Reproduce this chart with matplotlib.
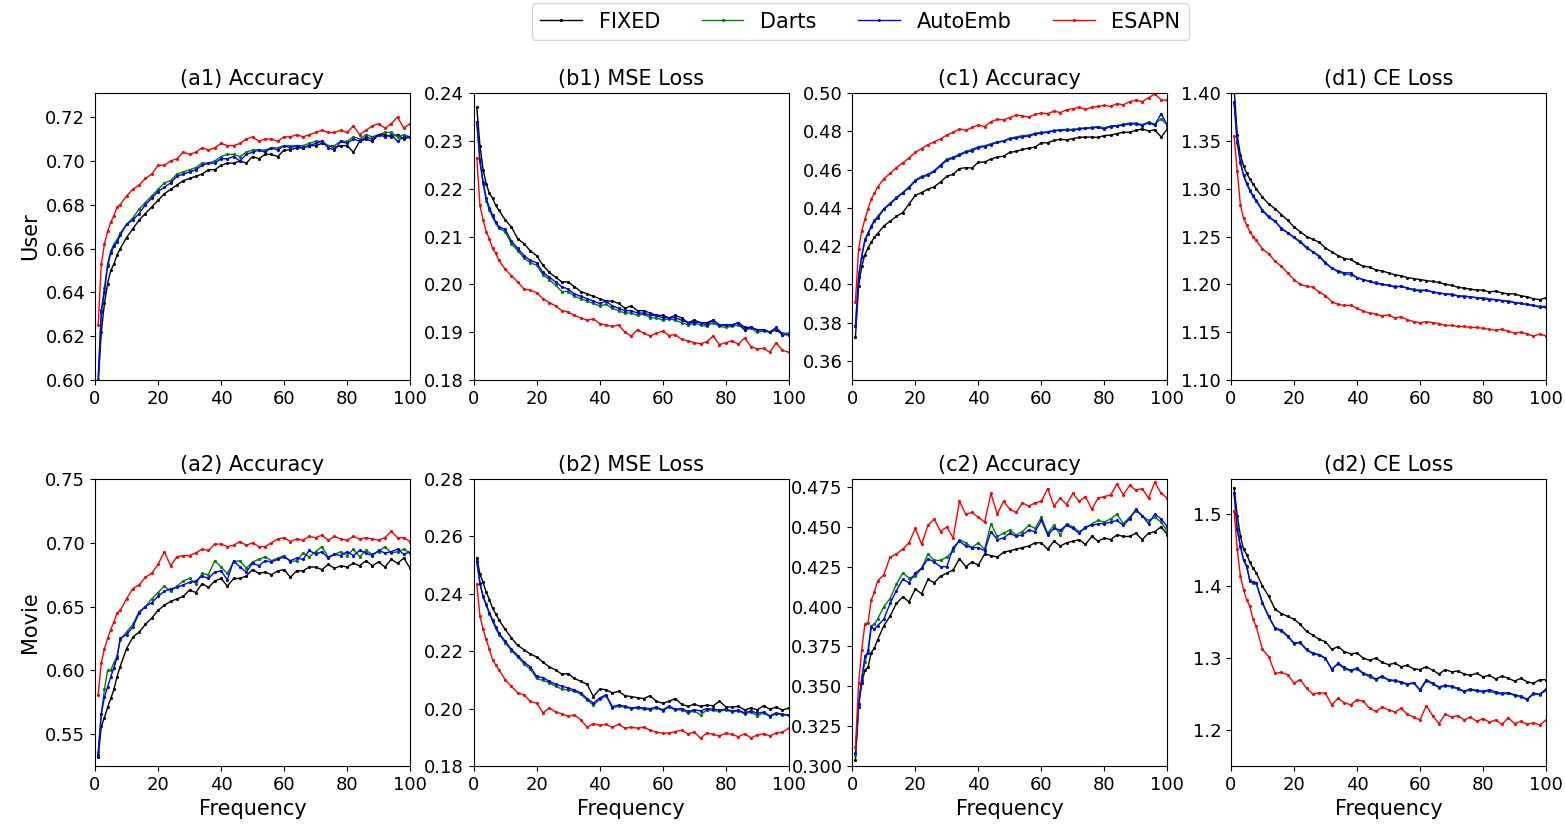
import matplotlib
matplotlib.use("Agg")
import matplotlib.pyplot as plt

# sampled frequencies
freq = [1, 2, 3, 4, 5, 6, 7, 8] + list(range(10, 101, 2))

methods = ["FIXED", "Darts", "AutoEmb", "ESAPN"]
colors = ["k", "g", "b", "r"]

# (a1) User accuracy
a1_fixed = [0.598, 0.622, 0.635, 0.644, 0.650, 0.653, 0.657, 0.660,
            0.665, 0.669, 0.673, 0.676, 0.679, 0.682, 0.685, 0.687, 0.689, 0.691,
            0.692, 0.693, 0.694, 0.696, 0.696, 0.698, 0.699, 0.699, 0.700, 0.699,
            0.702, 0.701, 0.703, 0.703, 0.702, 0.705, 0.705, 0.706, 0.706, 0.707,
            0.707, 0.708, 0.707, 0.706, 0.707, 0.707, 0.704, 0.709, 0.710, 0.709,
            0.712, 0.712, 0.711, 0.712, 0.710, 0.711]
a1_darts = [0.600, 0.632, 0.642, 0.653, 0.659, 0.662, 0.664, 0.667,
            0.671, 0.674, 0.678, 0.681, 0.684, 0.687, 0.690, 0.691, 0.694, 0.695,
            0.696, 0.697, 0.699, 0.699, 0.700, 0.702, 0.703, 0.703, 0.702, 0.704,
            0.705, 0.705, 0.705, 0.706, 0.706, 0.707, 0.707, 0.707, 0.707, 0.708,
            0.709, 0.709, 0.707, 0.707, 0.709, 0.709, 0.711, 0.710, 0.712, 0.711,
            0.712, 0.713, 0.713, 0.711, 0.712, 0.711]
a1_autoemb = [0.600, 0.631, 0.640, 0.652, 0.658, 0.661, 0.663, 0.666,
              0.671, 0.673, 0.676, 0.680, 0.683, 0.686, 0.688, 0.690, 0.693, 0.694,
              0.695, 0.696, 0.698, 0.699, 0.699, 0.701, 0.701, 0.702, 0.700, 0.703,
              0.704, 0.705, 0.704, 0.706, 0.705, 0.707, 0.706, 0.707, 0.706, 0.707,
              0.708, 0.709, 0.706, 0.705, 0.709, 0.708, 0.710, 0.709, 0.711, 0.710,
              0.712, 0.711, 0.712, 0.709, 0.711, 0.711]
a1_esapn = [0.625, 0.653, 0.662, 0.668, 0.672, 0.675, 0.679, 0.680,
            0.684, 0.687, 0.689, 0.692, 0.694, 0.698, 0.698, 0.700, 0.701, 0.704,
            0.703, 0.704, 0.706, 0.705, 0.706, 0.708, 0.707, 0.707, 0.708, 0.710,
            0.711, 0.709, 0.710, 0.710, 0.709, 0.711, 0.711, 0.712, 0.711, 0.712,
            0.713, 0.714, 0.713, 0.713, 0.714, 0.713, 0.716, 0.712, 0.714, 0.716,
            0.717, 0.715, 0.717, 0.720, 0.715, 0.717]

# (b1) User MSE loss
b1_fixed = [0.237, 0.229, 0.224, 0.221, 0.219, 0.218, 0.2165, 0.2155,
            0.2135, 0.212, 0.2095, 0.2085, 0.207, 0.206, 0.204, 0.2025, 0.2015, 0.2005,
            0.2005, 0.1995, 0.1985, 0.198, 0.1975, 0.197, 0.1965, 0.1965, 0.196, 0.195,
            0.1955, 0.1945, 0.1945, 0.194, 0.1935, 0.1935, 0.193, 0.1935, 0.193, 0.192,
            0.1925, 0.192, 0.192, 0.1925, 0.1915, 0.1915, 0.1915, 0.192, 0.191, 0.191,
            0.1905, 0.1905, 0.190, 0.1905, 0.1895, 0.1895]
b1_darts = [0.234, 0.2255, 0.221, 0.2175, 0.2155, 0.214, 0.2128, 0.2118,
            0.211, 0.2085, 0.207, 0.2055, 0.2045, 0.204, 0.202, 0.201, 0.1998, 0.1985,
            0.1985, 0.1975, 0.197, 0.1965, 0.196, 0.1955, 0.1958, 0.195, 0.1945, 0.194,
            0.194, 0.1935, 0.1938, 0.193, 0.193, 0.1925, 0.1928, 0.1925, 0.192, 0.1915,
            0.1918, 0.1915, 0.1912, 0.192, 0.1912, 0.191, 0.1912, 0.1915, 0.1905, 0.1908,
            0.190, 0.1902, 0.190, 0.1908, 0.1898, 0.1898]
b1_autoemb = [0.234, 0.226, 0.2215, 0.218, 0.216, 0.2145, 0.213, 0.212,
              0.2115, 0.209, 0.2075, 0.206, 0.205, 0.2045, 0.2025, 0.2015, 0.2005, 0.1995,
              0.199, 0.198, 0.1975, 0.197, 0.1965, 0.196, 0.1965, 0.1955, 0.195, 0.1945,
              0.1945, 0.194, 0.194, 0.1935, 0.1935, 0.193, 0.193, 0.193, 0.1925, 0.192,
              0.192, 0.192, 0.1915, 0.1925, 0.1915, 0.1915, 0.1915, 0.192, 0.1905, 0.191,
              0.1905, 0.1905, 0.190, 0.191, 0.1895, 0.1895]
b1_esapn = [0.2265, 0.2165, 0.2135, 0.211, 0.2095, 0.2075, 0.2065, 0.205,
            0.2032, 0.2018, 0.2005, 0.199, 0.1988, 0.1982, 0.197, 0.1962, 0.1955, 0.1945,
            0.1942, 0.1935, 0.193, 0.1925, 0.1928, 0.1918, 0.1915, 0.1912, 0.1915, 0.190,
            0.1892, 0.1905, 0.1898, 0.1892, 0.1898, 0.1902, 0.1893, 0.1895, 0.1885, 0.1882,
            0.1878, 0.1876, 0.188, 0.1892, 0.1874, 0.1878, 0.1882, 0.1875, 0.1888, 0.187,
            0.1865, 0.1866, 0.1858, 0.1878, 0.1862, 0.1858]

# (c1) User accuracy
c1_fixed = [0.3725, 0.399, 0.4095, 0.4155, 0.419, 0.422, 0.4245, 0.4265,
            0.4305, 0.433, 0.4355, 0.4375, 0.442, 0.4465, 0.448, 0.4498, 0.451, 0.4535,
            0.4565, 0.4575, 0.4605, 0.461, 0.4608, 0.4638, 0.464, 0.4655, 0.4665, 0.467,
            0.469, 0.4695, 0.4705, 0.4712, 0.4718, 0.474, 0.474, 0.4752, 0.4758, 0.4755,
            0.4762, 0.4768, 0.477, 0.477, 0.4768, 0.4778, 0.478, 0.4788, 0.4795, 0.4795,
            0.4805, 0.4812, 0.4802, 0.4808, 0.477, 0.4812]
c1_darts = [0.378, 0.4045, 0.415, 0.4235, 0.427, 0.4305, 0.4335, 0.4355,
            0.4395, 0.4425, 0.4455, 0.448, 0.451, 0.4545, 0.4565, 0.4575, 0.4595, 0.4625,
            0.4655, 0.4665, 0.468, 0.4695, 0.4705, 0.472, 0.4725, 0.4735, 0.4745, 0.475,
            0.4765, 0.477, 0.4778, 0.478, 0.479, 0.4795, 0.4798, 0.4805, 0.4808, 0.481,
            0.481, 0.4815, 0.4818, 0.482, 0.4825, 0.4818, 0.4828, 0.483, 0.4838, 0.4842,
            0.4843, 0.4835, 0.4848, 0.4838, 0.4865, 0.4832]
c1_autoemb = [0.378, 0.404, 0.4145, 0.423, 0.4265, 0.43, 0.433, 0.4345,
              0.4392, 0.442, 0.445, 0.4478, 0.4505, 0.454, 0.456, 0.457, 0.459, 0.462,
              0.4648, 0.466, 0.4675, 0.469, 0.4698, 0.4715, 0.472, 0.473, 0.4742, 0.4748,
              0.476, 0.4765, 0.4772, 0.4775, 0.4785, 0.479, 0.4795, 0.4802, 0.4805, 0.4808,
              0.4805, 0.4812, 0.4815, 0.4818, 0.482, 0.4812, 0.4825, 0.4828, 0.4832, 0.4838,
              0.4838, 0.483, 0.4845, 0.4832, 0.4892, 0.483]
c1_esapn = [0.391, 0.4185, 0.428, 0.434, 0.4395, 0.4445, 0.4475, 0.4508,
            0.4551, 0.458, 0.461, 0.4635, 0.466, 0.469, 0.471, 0.473, 0.4745, 0.476,
            0.478, 0.4795, 0.4812, 0.4805, 0.482, 0.4832, 0.4825, 0.485, 0.4862, 0.486,
            0.4872, 0.4885, 0.488, 0.4875, 0.4888, 0.4895, 0.4892, 0.4905, 0.4898, 0.4912,
            0.4918, 0.4925, 0.4915, 0.4925, 0.493, 0.4935, 0.493, 0.4945, 0.4938, 0.4955,
            0.4962, 0.4955, 0.4975, 0.4995, 0.4965, 0.4962]

# (d1) User CE loss
d1_fixed = [1.405, 1.356, 1.335, 1.324, 1.316, 1.310, 1.305, 1.300,
            1.291, 1.284, 1.279, 1.273, 1.267, 1.260, 1.255, 1.250, 1.247, 1.244,
            1.238, 1.234, 1.230, 1.227, 1.226, 1.222, 1.219, 1.218, 1.215, 1.214,
            1.212, 1.210, 1.209, 1.207, 1.206, 1.205, 1.204, 1.203, 1.202, 1.200,
            1.199, 1.197, 1.196, 1.195, 1.194, 1.194, 1.192, 1.193, 1.191, 1.190,
            1.190, 1.188, 1.187, 1.185, 1.184, 1.186]
d1_darts = [1.390, 1.348, 1.327, 1.314, 1.306, 1.299, 1.293, 1.288,
            1.278, 1.271, 1.266, 1.259, 1.254, 1.249, 1.245, 1.239, 1.234, 1.230,
            1.223, 1.217, 1.213, 1.211, 1.210, 1.207, 1.205, 1.203, 1.202, 1.200,
            1.199, 1.198, 1.198, 1.196, 1.195, 1.194, 1.194, 1.192, 1.191, 1.190,
            1.190, 1.188, 1.188, 1.187, 1.186, 1.186, 1.185, 1.184, 1.183, 1.183,
            1.181, 1.180, 1.179, 1.178, 1.177, 1.177]
d1_autoemb = [1.391, 1.349, 1.328, 1.314, 1.305, 1.298, 1.292, 1.287,
              1.277, 1.270, 1.266, 1.258, 1.254, 1.249, 1.244, 1.238, 1.234, 1.229,
              1.222, 1.217, 1.214, 1.212, 1.212, 1.207, 1.205, 1.203, 1.201, 1.200,
              1.199, 1.197, 1.198, 1.196, 1.194, 1.193, 1.194, 1.192, 1.191, 1.190,
              1.189, 1.188, 1.187, 1.187, 1.186, 1.185, 1.184, 1.184, 1.183, 1.182,
              1.181, 1.180, 1.179, 1.178, 1.176, 1.176]
d1_esapn = [1.355, 1.318, 1.283, 1.269, 1.262, 1.255, 1.250, 1.246,
            1.237, 1.232, 1.224, 1.219, 1.212, 1.205, 1.200, 1.198, 1.197, 1.192,
            1.188, 1.182, 1.179, 1.178, 1.178, 1.175, 1.172, 1.170, 1.169, 1.167,
            1.168, 1.165, 1.166, 1.163, 1.161, 1.160, 1.161, 1.160, 1.159, 1.157,
            1.157, 1.156, 1.156, 1.155, 1.155, 1.154, 1.153, 1.152, 1.153, 1.151,
            1.149, 1.150, 1.148, 1.146, 1.148, 1.146]

# (a2) Movie accuracy
a2_fixed = [0.532, 0.556, 0.563, 0.571, 0.578, 0.585, 0.595, 0.603,
            0.617, 0.626, 0.630, 0.636, 0.641, 0.647, 0.651, 0.654, 0.656, 0.658,
            0.663, 0.661, 0.668, 0.665, 0.670, 0.672, 0.666, 0.672, 0.672, 0.674,
            0.679, 0.676, 0.677, 0.675, 0.678, 0.679, 0.673, 0.678, 0.678, 0.681,
            0.681, 0.679, 0.683, 0.680, 0.682, 0.681, 0.684, 0.682, 0.686, 0.682,
            0.685, 0.681, 0.687, 0.684, 0.688, 0.680]
a2_darts = [0.536, 0.566, 0.585, 0.600, 0.600, 0.606, 0.611, 0.624,
            0.630, 0.636, 0.646, 0.650, 0.656, 0.661, 0.666, 0.662, 0.666, 0.670,
            0.672, 0.668, 0.676, 0.675, 0.686, 0.681, 0.676, 0.685, 0.686, 0.680,
            0.685, 0.687, 0.689, 0.686, 0.688, 0.690, 0.685, 0.686, 0.692, 0.689,
            0.693, 0.697, 0.689, 0.691, 0.693, 0.690, 0.695, 0.689, 0.694, 0.691,
            0.693, 0.697, 0.692, 0.693, 0.695, 0.692]
a2_autoemb = [0.534, 0.566, 0.579, 0.587, 0.595, 0.602, 0.610, 0.625,
              0.628, 0.634, 0.645, 0.650, 0.653, 0.658, 0.662, 0.664, 0.665, 0.667,
              0.669, 0.670, 0.674, 0.672, 0.677, 0.678, 0.671, 0.686, 0.681, 0.677,
              0.684, 0.682, 0.686, 0.685, 0.687, 0.689, 0.686, 0.688, 0.687, 0.694,
              0.691, 0.693, 0.688, 0.691, 0.690, 0.693, 0.690, 0.694, 0.692, 0.690,
              0.694, 0.692, 0.693, 0.695, 0.691, 0.693]
a2_esapn = [0.581, 0.606, 0.617, 0.625, 0.632, 0.638, 0.645, 0.647,
            0.656, 0.664, 0.667, 0.673, 0.676, 0.683, 0.693, 0.682, 0.689, 0.690,
            0.690, 0.692, 0.695, 0.694, 0.699, 0.699, 0.697, 0.698, 0.701, 0.698,
            0.700, 0.697, 0.697, 0.700, 0.703, 0.704, 0.701, 0.703, 0.702, 0.705,
            0.704, 0.706, 0.702, 0.705, 0.703, 0.702, 0.705, 0.703, 0.704, 0.703,
            0.702, 0.704, 0.709, 0.704, 0.704, 0.701]

# (b2) Movie MSE loss
b2_fixed = [0.2526, 0.2468, 0.244, 0.2405, 0.238, 0.235, 0.233, 0.231,
            0.2276, 0.2246, 0.222, 0.2205, 0.219, 0.218, 0.2162, 0.2145, 0.2135, 0.212,
            0.2122, 0.2105, 0.2095, 0.2085, 0.2042, 0.2068, 0.2066, 0.2055, 0.206, 0.2045,
            0.2042, 0.2038, 0.2035, 0.2045, 0.2025, 0.2019, 0.2025, 0.2035, 0.2015, 0.2008,
            0.2015, 0.2008, 0.2012, 0.201, 0.2025, 0.2007, 0.2005, 0.2008, 0.1995, 0.2002,
            0.1996, 0.201, 0.1998, 0.2005, 0.1995, 0.2002]
b2_darts = [0.251, 0.2435, 0.2388, 0.236, 0.233, 0.2305, 0.228, 0.2258,
            0.223, 0.2202, 0.218, 0.2155, 0.2138, 0.2105, 0.2098, 0.209, 0.2078, 0.2068,
            0.2065, 0.206, 0.205, 0.203, 0.2012, 0.2032, 0.2045, 0.2002, 0.2008, 0.2005,
            0.2, 0.2002, 0.1998, 0.1996, 0.2002, 0.1993, 0.2005, 0.1995, 0.1996, 0.1985,
            0.1992, 0.1978, 0.1995, 0.1994, 0.199, 0.1996, 0.1988, 0.1992, 0.1982, 0.1988,
            0.1975, 0.1985, 0.1972, 0.1982, 0.1978, 0.1976]
b2_autoemb = [0.2514, 0.2439, 0.2392, 0.2363, 0.2334, 0.231, 0.2285, 0.2264,
              0.2235, 0.2206, 0.2185, 0.2162, 0.2145, 0.2112, 0.2108, 0.2095, 0.2085, 0.2078,
              0.2072, 0.2065, 0.2055, 0.2035, 0.2019, 0.2037, 0.2048, 0.2007, 0.2012, 0.2008,
              0.2002, 0.2005, 0.2002, 0.2, 0.2005, 0.1996, 0.2008, 0.1998, 0.2, 0.199,
              0.1996, 0.1992, 0.2, 0.1998, 0.1995, 0.1998, 0.1992, 0.1995, 0.1985, 0.1992,
              0.1984, 0.1988, 0.1975, 0.1985, 0.198, 0.1978]
b2_esapn = [0.2433, 0.2322, 0.2276, 0.2241, 0.2206, 0.2171, 0.2152, 0.2136,
            0.2101, 0.2077, 0.2055, 0.2048, 0.2025, 0.2019, 0.1985, 0.2002, 0.1988, 0.1982,
            0.1973, 0.1978, 0.1961, 0.1935, 0.1948, 0.1942, 0.1945, 0.1935, 0.1945, 0.1932,
            0.1935, 0.1932, 0.1935, 0.1925, 0.1918, 0.1914, 0.1915, 0.192, 0.1925, 0.1912,
            0.1918, 0.1897, 0.1915, 0.191, 0.1905, 0.1914, 0.191, 0.1902, 0.1912, 0.1898,
            0.1908, 0.1912, 0.1905, 0.1915, 0.1918, 0.1932]

# (c2) Movie accuracy
c2_fixed = [0.304, 0.337, 0.352, 0.360, 0.362, 0.371, 0.374, 0.379,
            0.388, 0.394, 0.402, 0.406, 0.403, 0.411, 0.408, 0.417, 0.415, 0.419,
            0.421, 0.423, 0.430, 0.425, 0.428, 0.426, 0.433, 0.432, 0.431, 0.434,
            0.435, 0.436, 0.437, 0.438, 0.440, 0.440, 0.436, 0.441, 0.438, 0.440,
            0.441, 0.442, 0.439, 0.444, 0.441, 0.443, 0.442, 0.445, 0.444, 0.444,
            0.446, 0.442, 0.446, 0.447, 0.450, 0.445]
c2_darts = [0.307, 0.339, 0.356, 0.365, 0.373, 0.388, 0.389, 0.392,
            0.400, 0.405, 0.414, 0.421, 0.418, 0.419, 0.424, 0.433, 0.429, 0.429,
            0.431, 0.435, 0.442, 0.440, 0.437, 0.440, 0.436, 0.452, 0.444, 0.446,
            0.448, 0.445, 0.447, 0.451, 0.449, 0.456, 0.446, 0.451, 0.445, 0.452,
            0.450, 0.447, 0.449, 0.452, 0.454, 0.453, 0.455, 0.458, 0.452, 0.456,
            0.460, 0.457, 0.454, 0.456, 0.453, 0.447]
c2_autoemb = [0.308, 0.339, 0.354, 0.369, 0.371, 0.387, 0.386, 0.388,
              0.392, 0.402, 0.410, 0.417, 0.415, 0.421, 0.424, 0.430, 0.428, 0.425,
              0.425, 0.437, 0.441, 0.438, 0.437, 0.437, 0.435, 0.447, 0.442, 0.443,
              0.446, 0.444, 0.445, 0.448, 0.447, 0.454, 0.445, 0.449, 0.448, 0.451,
              0.449, 0.446, 0.450, 0.451, 0.452, 0.452, 0.453, 0.454, 0.451, 0.455,
              0.461, 0.457, 0.452, 0.458, 0.455, 0.450]
c2_esapn = [0.312, 0.352, 0.373, 0.389, 0.390, 0.404, 0.409, 0.416,
            0.420, 0.431, 0.433, 0.436, 0.440, 0.449, 0.439, 0.451, 0.455, 0.447,
            0.450, 0.443, 0.466, 0.458, 0.459, 0.456, 0.453, 0.471, 0.458, 0.466,
            0.461, 0.459, 0.465, 0.463, 0.465, 0.466, 0.474, 0.463, 0.468, 0.464,
            0.471, 0.466, 0.469, 0.461, 0.468, 0.469, 0.470, 0.477, 0.470, 0.476,
            0.473, 0.474, 0.468, 0.478, 0.471, 0.468]

# (d2) Movie CE loss
d2_fixed = [1.537, 1.498, 1.470, 1.451, 1.444, 1.433, 1.425, 1.419,
            1.400, 1.386, 1.368, 1.362, 1.358, 1.354, 1.347, 1.337, 1.332, 1.326,
            1.323, 1.312, 1.316, 1.309, 1.306, 1.307, 1.300, 1.297, 1.300, 1.294,
            1.291, 1.293, 1.288, 1.290, 1.285, 1.284, 1.288, 1.283, 1.278, 1.284,
            1.281, 1.282, 1.278, 1.276, 1.279, 1.274, 1.276, 1.271, 1.275, 1.272,
            1.268, 1.272, 1.267, 1.265, 1.270, 1.270]
d2_darts = [1.529, 1.478, 1.455, 1.436, 1.427, 1.408, 1.405, 1.404,
            1.376, 1.357, 1.341, 1.337, 1.330, 1.320, 1.321, 1.311, 1.306, 1.304,
            1.299, 1.285, 1.292, 1.285, 1.282, 1.285, 1.278, 1.274, 1.270, 1.274,
            1.269, 1.268, 1.266, 1.263, 1.265, 1.255, 1.268, 1.264, 1.259, 1.261,
            1.260, 1.257, 1.253, 1.256, 1.254, 1.253, 1.254, 1.251, 1.250, 1.251,
            1.248, 1.246, 1.242, 1.250, 1.249, 1.255]
d2_autoemb = [1.530, 1.479, 1.456, 1.437, 1.428, 1.407, 1.406, 1.405,
              1.377, 1.358, 1.342, 1.339, 1.331, 1.321, 1.322, 1.312, 1.307, 1.305,
              1.300, 1.284, 1.293, 1.287, 1.283, 1.286, 1.279, 1.276, 1.271, 1.275,
              1.270, 1.269, 1.267, 1.264, 1.266, 1.256, 1.270, 1.265, 1.260, 1.262,
              1.261, 1.258, 1.254, 1.257, 1.255, 1.254, 1.256, 1.253, 1.251, 1.252,
              1.249, 1.247, 1.243, 1.251, 1.250, 1.257]
d2_esapn = [1.505, 1.451, 1.414, 1.395, 1.381, 1.372, 1.354, 1.344,
            1.312, 1.302, 1.279, 1.280, 1.277, 1.265, 1.270, 1.258, 1.250, 1.252,
            1.251, 1.235, 1.244, 1.238, 1.235, 1.242, 1.240, 1.230, 1.226, 1.232,
            1.228, 1.225, 1.230, 1.222, 1.218, 1.214, 1.234, 1.220, 1.209, 1.222,
            1.218, 1.220, 1.214, 1.218, 1.212, 1.216, 1.211, 1.214, 1.208, 1.217,
            1.209, 1.212, 1.208, 1.210, 1.207, 1.214]

panels = [
    ("(a1) Accuracy", [a1_fixed, a1_darts, a1_autoemb, a1_esapn], (0.60, 0.731), [0.60, 0.62, 0.64, 0.66, 0.68, 0.70, 0.72], "%.2f"),
    ("(b1) MSE Loss", [b1_fixed, b1_darts, b1_autoemb, b1_esapn], (0.18, 0.24), [0.18, 0.19, 0.20, 0.21, 0.22, 0.23, 0.24], "%.2f"),
    ("(c1) Accuracy", [c1_fixed, c1_darts, c1_autoemb, c1_esapn], (0.35, 0.50), [0.36, 0.38, 0.40, 0.42, 0.44, 0.46, 0.48, 0.50], "%.2f"),
    ("(d1) CE Loss", [d1_fixed, d1_darts, d1_autoemb, d1_esapn], (1.10, 1.40), [1.10, 1.15, 1.20, 1.25, 1.30, 1.35, 1.40], "%.2f"),
    ("(a2) Accuracy", [a2_fixed, a2_darts, a2_autoemb, a2_esapn], (0.525, 0.75), [0.55, 0.60, 0.65, 0.70, 0.75], "%.2f"),
    ("(b2) MSE Loss", [b2_fixed, b2_darts, b2_autoemb, b2_esapn], (0.18, 0.28), [0.18, 0.20, 0.22, 0.24, 0.26, 0.28], "%.2f"),
    ("(c2) Accuracy", [c2_fixed, c2_darts, c2_autoemb, c2_esapn], (0.30, 0.48), [0.300, 0.325, 0.350, 0.375, 0.400, 0.425, 0.450, 0.475], "%.3f"),
    ("(d2) CE Loss", [d2_fixed, d2_darts, d2_autoemb, d2_esapn], (1.15, 1.549), [1.2, 1.3, 1.4, 1.5], "%.1f"),
]

fig, axes = plt.subplots(2, 4, figsize=(15.65, 8.24), dpi=100)
plt.subplots_adjust(left=0.0607, right=0.9879, top=0.8871, bottom=0.0704,
                    wspace=0.2016, hspace=0.345)

for ax, (title, series, ylim, yticks, fmt) in zip(axes.flat, panels):
    for vals, name, c in zip(series, methods, colors):
        ax.plot(freq, vals, color=c, lw=1.0, marker='.', ms=2.5, label=name)
    ax.set_xlim(0, 100)
    ax.set_ylim(*ylim)
    ax.set_xticks([0, 20, 40, 60, 80, 100])
    ax.set_yticks(yticks)
    ax.set_yticklabels([fmt % t for t in yticks])
    ax.tick_params(labelsize=13)
    ax.set_title(title, fontsize=15)

for ax in axes[1]:
    ax.set_xlabel("Frequency", fontsize=15)
axes[0, 0].set_ylabel("User", fontsize=15)
axes[1, 0].set_ylabel("Movie", fontsize=15)

handles, labels = axes[0, 0].get_legend_handles_labels()
fig.legend(handles, labels, loc='upper center', bbox_to_anchor=(0.5498, 1.0085),
           ncol=4, fontsize=15, frameon=True, numpoints=1)

fig.savefig("out.png", dpi=100)
